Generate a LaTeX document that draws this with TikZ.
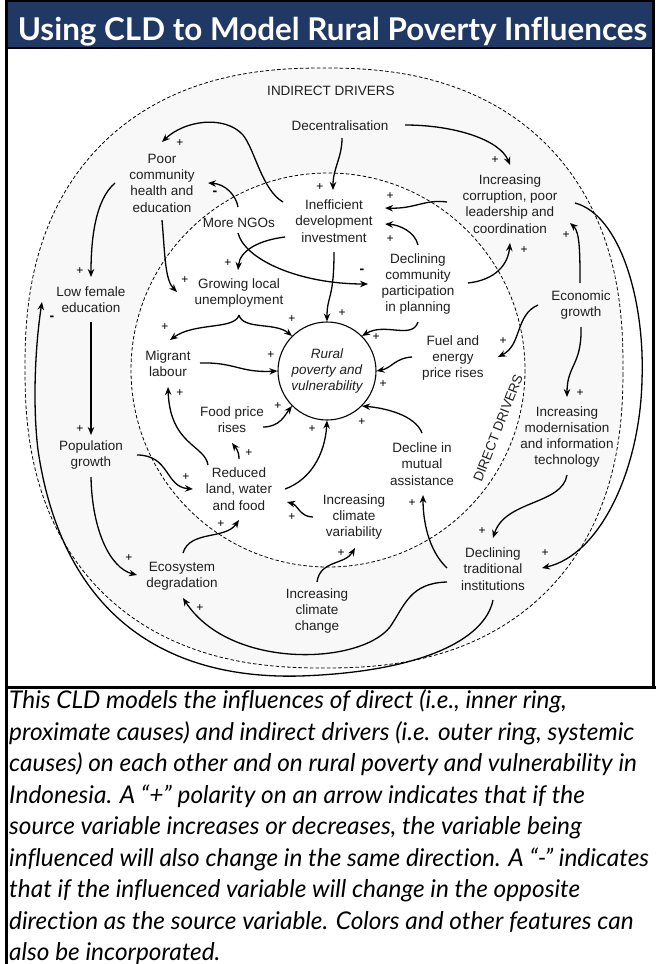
\documentclass[tikz,border=0pt]{standalone}
\usepackage{fontspec}
\setmainfont{Liberation Sans}
\newfontfamily\titlefont[Ligatures=NoCommon]{Lato}
\usetikzlibrary{calc,arrows.meta}
\definecolor{barblue}{HTML}{203864}
\definecolor{ringfill}{HTML}{F8F8F8}

\begin{document}
\begin{tikzpicture}[x=1pt,y=-1pt,
  var/.style={align=center,inner sep=0pt,font=\fontsize{13.5}{16.3}\selectfont,text=black!88},
  pol/.style={inner sep=0pt,font=\fontsize{12}{12}\selectfont},
  neg/.style={inner sep=0pt,font=\fontsize{14}{14}\selectfont\bfseries},
  link/.style={line width=1.3pt,-{Stealth[length=8pt,width=6.5pt]}},
  ring/.style={dash pattern=on 3.5pt off 2.2pt,line width=0.8pt},
  capline/.style={anchor=base west,inner sep=0pt,font=\titlefont\itshape\fontsize{24.4}{24.4}\selectfont}
]
\useasboundingbox (0,0) rectangle (656,964);

% title bar and frame
\fill[barblue] (6,0) rectangle (654,48);
\node[anchor=base,text=white,inner sep=0pt,font=\titlefont\bfseries\fontsize{31.4}{31.4}\selectfont] (title) at (332.5,40) {Using CLD to Model Rural Poverty Influences};
\draw[line width=2pt] (6,48) -- (654,48);
\draw[line width=2.5pt] (6.5,0) -- (6.5,964);
\draw[line width=2.5pt] (653.5,0) -- (653.5,688);
\draw[line width=1.5pt] (6,0.75) -- (654,0.75);
\draw[line width=2.5pt] (6,687.5) -- (656,687.5);

% outer ring (indirect drivers) and inner ring (direct drivers)
\fill[ringfill] plot[domain=0.5:360.5,samples=361]
  ({324+299*cos(\x)*exp(-0.149*ln(abs(cos(\x))))},{368+300*sin(\x)*exp(-0.149*ln(abs(sin(\x))))}) -- cycle;
\fill[white] (328,370) circle[radius=197];
\draw[ring] plot[domain=0.5:360.5,samples=361]
  ({324+299*cos(\x)*exp(-0.149*ln(abs(cos(\x))))},{368+300*sin(\x)*exp(-0.149*ln(abs(sin(\x))))}) -- cycle;
\draw[ring] (328,370) circle[radius=197];

% variables
\node[var] (indir) at (331,91) {INDIRECT DRIVERS};
\node[var] (dec) at (340,126) {Decentralisation};
\node[var] (poor) at (162,183) {Poor\\community\\health and\\education};
\node[var] (ngo) at (239,223) {More NGOs};
\node[var] (ineff) at (334,221) {Inefficient\\development\\investment};
\node[var] (corr) at (510,204) {Increasing\\corruption, poor\\leadership and\\coordination};
\node[var] (decl) at (418,284) {Declining\\community\\participation\\in planning};
\node[var] (econ) at (581,305) {Economic\\growth};
\node[var] (fuel) at (453,358) {Fuel and\\energy\\price rises};
\node[var] (modern) at (567,437) {Increasing\\modernisation\\and information\\technology};
\node[var,rotate=68.6] (dirlab) at (498,428) {DIRECT DRIVERS};
\node[var] (lowfem) at (91,300) {Low female\\education};
\node[var] (grow) at (239,293) {Growing local\\unemployment};
\node[var] (migr) at (168,364) {Migrant\\labour};
\node[circle,draw,line width=1.1pt,fill=white,minimum size=98pt,inner sep=0pt,align=center,
  font=\fontsize{13.5}{16.3}\selectfont\itshape,text=black!88] (rural) at (327,371) {Rural\\poverty and\\vulnerability};
\node[var] (food) at (232,420) {Food price\\rises};
\node[var] (reduced) at (239,489) {Reduced\\land, water\\and food};
\node[var] (clim) at (354,517) {Increasing\\climate\\variability};
\node[var] (mutual) at (422,464) {Decline in\\mutual\\assistance};
\node[var] (pop) at (91,455) {Population\\growth};
\node[var] (eco) at (182,576) {Ecosystem\\degradation};
\node[var] (cchange) at (317,611) {Increasing\\climate\\change};
\node[var] (trad) at (493,569) {Declining\\traditional\\institutions};

% causal links
\draw[link] ($(dec)+(2,12)$) .. controls (342,158) and (333,168) .. ($(ineff)+(-1,-31)$);
\draw[link] ($(dec)+(65,-1)$) .. controls (455,125) and (500,140) .. ($(corr)+(0,-39)$);
\draw[link] ($(ineff)+(-51,-19)$) .. controls (262,190) and (255,150) .. (243,135)
  .. controls (225,115) and (185,120) .. ($(poor)+(0,-41)$);
\draw[link] ($(ngo)+(-1,-16)$) .. controls (236,195) and (225,184) .. ($(poor)+(46,0)$);
\draw[link] ($(ngo)+(-1,10)$) .. controls (245,260) and (300,284) .. ($(decl)+(-50,0)$);
\draw[link] ($(ineff)+(-49,16)$) .. controls (260,240) and (240,250) .. ($(grow)+(-1,-23)$);
\draw[link] ($(ineff)+(0,31)$) .. controls (334,300) and (327,295) .. (rural.north);
\draw[link] ($(corr)+(-63,-2)$) .. controls (425,199) and (415,209) .. ($(ineff)+(51,-13)$);
\draw[link] ($(decl)+(0,-39)$) .. controls (415,232) and (400,225) .. ($(ineff)+(51,3)$);
\draw[link] ($(decl)+(50,-1)$) .. controls (495,280) and (508,265) .. ($(corr)+(0,39)$);
\draw[link] ($(econ)+(-1,-22)$) .. controls (580,255) and (580,232) .. ($(corr)+(60,19)$);
\draw[link] ($(econ)+(-43,0)$) .. controls (515,315) and (522,345) .. ($(fuel)+(45,-1)$);
\draw[link] ($(econ)+(0,22)$) .. controls (582,365) and (567,365) .. ($(modern)+(0,-40)$);
\draw[link] ($(modern)+(0,38)$) .. controls (562,505) and (505,500) .. ($(trad)+(0,-31)$);
\draw[link] ($(corr)+(65,-1)$) .. controls (620,215) and (645,300) .. (642,380)
  .. controls (640,470) and (600,555) .. ($(trad)+(49,-1)$);
\draw[link] ($(grow)+(0,22)$) .. controls (235,330) and (195,322) .. ($(migr)+(2,-24)$);
\draw[link] ($(grow)+(0,22)$) .. controls (243,330) and (275,322) .. (rural.135);
\draw[link] ($(migr)+(32,-1)$) .. controls (235,362) and (240,373) .. (rural.west);
\draw[link] ($(food)+(31,7)$) .. controls (280,427) and (285,415) .. (rural.225);
\draw[link] ($(reduced)+(0,-30)$) .. controls (239,450) and (235,447) .. ($(food)+(0,23)$);
\draw[link] ($(reduced)+(-31,-24)$) .. controls (205,445) and (170,445) .. ($(migr)+(0,23)$);
\draw[link] ($(reduced)+(46,0)$) .. controls (310,480) and (325,455) .. (rural.south);
\draw[link] ($(mutual)+(0,-31)$) .. controls (415,415) and (385,408) .. (rural.315);
\draw[link] ($(clim)+(-41,0)$) .. controls (300,517) and (298,505) .. ($(reduced)+(48,13)$);
\draw[link] ($(cchange)+(0,-29)$) .. controls (320,560) and (345,565) .. ($(clim)+(1,31)$);
\draw[link] ($(eco)+(1,-23)$) .. controls (190,530) and (225,540) .. ($(reduced)+(0,31)$);
\draw[link] ($(pop)+(46,0)$) .. controls (170,455) and (165,487) .. ($(reduced)+(-46,0)$);
\draw[link] ($(pop)+(0,22)$) .. controls (92,530) and (110,568) .. ($(eco)+(-45,-1)$);
\draw[link] ($(lowfem)+(0,22)$) -- ($(pop)+(0,-20)$);
\draw[link] ($(poor)+(-47,0)$) .. controls (95,200) and (91,240) .. ($(lowfem)+(0,-23)$);
\draw[link] ($(poor)+(0,37)$) .. controls (165,255) and (165,280) .. ($(grow)+(-62,-1)$);
\draw[link] ($(fuel)+(-41,-1)$) .. controls (395,358) and (392,368) .. (rural.east);
\draw[link] ($(decl)+(0,38)$) .. controls (412,340) and (385,322) .. (rural.45);
\draw[link] ($(trad)+(-46,-1)$) .. controls (428,550) and (423,520) .. ($(mutual)+(1,31)$);
\draw[link] ($(trad)+(-46,13)$) .. controls (410,583) and (405,605) .. (390,627)
  .. controls (360,665) and (230,670) .. ($(eco)+(1,22)$);
\draw[link] ($(trad)+(0,31)$) .. controls (485,640) and (420,672) .. (300,676)
  .. controls (150,680) and (60,600) .. (38,450)
  .. controls (32,400) and (36,340) .. ($(lowfem)+(-49,2)$);

% polarities
\node[pol] (sA) at (320,187) {+};
\node[pol] (sB) at (495,160) {+};
\node[pol] (sC) at (180,143) {+};
\node[neg] (sD) at (215,193) {-};
\node[neg] (sE) at (362,271) {-};
\node[pol] (sF) at (228,263) {+};
\node[pol] (sG) at (342,313) {+};
\node[pol] (sH) at (390,196) {+};
\node[pol] (sI) at (390,239) {+};
\node[pol] (sJ) at (524,250) {+};
\node[pol] (sK) at (566,235) {+};
\node[pol] (sL) at (503,341) {+};
\node[pol] (sM) at (580,393) {+};
\node[pol] (sN) at (482,531) {+};
\node[pol] (sO) at (545,553) {+};
\node[pol] (sP) at (165,327) {+};
\node[pol] (sQ) at (292,319) {+};
\node[pol] (sR) at (271,355) {+};
\node[pol] (sS) at (278,406) {+};
\node[pol] (sT) at (249,453) {+};
\node[pol] (sU) at (180,393) {+};
\node[pol] (sV) at (312,429) {+};
\node[pol] (sW) at (362,422) {+};
\node[pol] (sX) at (292,517) {+};
\node[pol] (sY) at (341,553) {+};
\node[pol] (sZ) at (221,524) {+};
\node[pol] (sAA) at (186,477) {+};
\node[pol] (sBB) at (129,558) {+};
\node[pol] (sCC) at (80,429) {+};
\node[pol] (sDD) at (80,271) {+};
\node[pol] (sEE) at (185,280) {+};
\node[pol] (sFF) at (383,384) {+};
\node[pol] (sGG) at (376,337) {+};
\node[pol] (sHH) at (412,503) {+};
\node[pol] (sQQ) at (200,608) {+};
\node[neg] (sRR) at (52,318) {-};

% caption
\node[capline] (c1) at (9,708.5) {This CLD models the influences of direct (i.e., inner ring,};
\node[capline] (c2) at (9,740) {proximate causes) and indirect drivers (i.e. outer ring, systemic};
\node[capline] (c3) at (9,771.5) {causes) on each other and on rural poverty and vulnerability in};
\node[capline] (c4) at (9,803) {Indonesia. A “+” polarity on an arrow indicates that if the};
\node[capline] (c5) at (9,834.5) {source variable increases or decreases, the variable being};
\node[capline] (c6) at (9,866) {influenced will also change in the same direction. A “-” indicates};
\node[capline] (c7) at (9,897.5) {that if the influenced variable will change in the opposite};
\node[capline] (c8) at (9,929) {direction as the source variable. Colors and other features can};
\node[capline] (c9) at (9,960.5) {also be incorporated.};
\end{tikzpicture}
\end{document}
